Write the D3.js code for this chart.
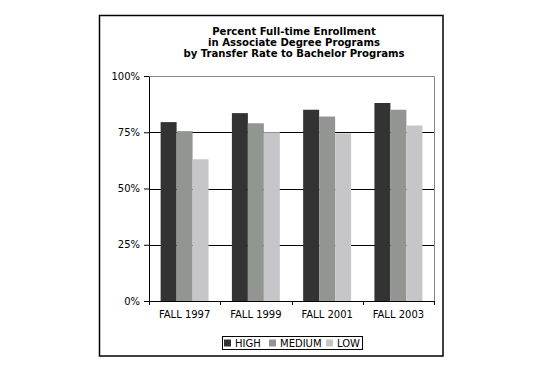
<!DOCTYPE html>
<html>
<head>
<meta charset="utf-8">
<script src="https://cdn.jsdelivr.net/npm/d3@7"></script>
<style>
  body { margin: 0; background: #fff; }
  text { font-family: "DejaVu Sans", Verdana, sans-serif; fill: #000; }
</style>
</head>
<body>
<div id="chart"></div>
<script>
// data
const terms = ["FALL 1997", "FALL 1999", "FALL 2001", "FALL 2003"];
const seriesNames = ["HIGH", "MEDIUM", "LOW"];
const high = [0.795, 0.835, 0.85, 0.88];
const medium = [0.755, 0.79, 0.82, 0.85];
const low = [0.63, 0.75, 0.745, 0.78];
const yTicks = [0, 0.25, 0.5, 0.75, 1];
const titleLines = ["Percent Full-time Enrollment", "in Associate Degree Programs", "by Transfer Rate to Bachelor Programs"];

const colors = { HIGH: "#333333", MEDIUM: "#939593", LOW: "#c6c5c8" };

const W = 540, H = 381;
const margin = { top: 76, right: 106, bottom: 80, left: 149 };
const width = W - margin.left - margin.right;
const height = H - margin.top - margin.bottom;

const svg = d3.select("#chart").append("svg")
    .attr("width", W)
    .attr("height", H);

// outer frame
svg.append("rect")
    .attr("x", 99.5).attr("y", 15.5)
    .attr("width", 343.5).attr("height", 340.5)
    .attr("fill", "none")
    .attr("stroke", "#000")
    .attr("stroke-width", 1.5);

// title
svg.append("text")
    .attr("x", 294).attr("y", 35)
    .style("text-anchor", "middle")
    .style("font-weight", "bold")
    .style("font-size", "10.1px")
    .selectAll("tspan")
    .data(titleLines)
    .enter().append("tspan")
    .attr("x", 294)
    .attr("dy", (d, i) => i === 0 ? 0 : 11)
    .text(d => d);

const g = svg.append("g")
    .attr("transform", `translate(${margin.left},${margin.top})`);

const x0 = d3.scaleBand().domain(terms).range([0, width]).paddingInner(0.327).paddingOuter(0.163);
const x1 = d3.scaleBand().domain(seriesNames).range([0, x0.bandwidth()]);
const y = d3.scaleLinear().domain([0, 1]).range([height, 0]);

// plot border (top/right gray)
g.append("path")
    .attr("d", `M0.5,0.5H${width + 0.5}V${height}`)
    .attr("fill", "none")
    .attr("stroke", "#888");

// gridlines
g.selectAll(".grid")
    .data(yTicks.filter(t => t > 0 && t < 1))
    .enter().append("line")
    .attr("x1", 0).attr("x2", width)
    .attr("y1", d => Math.round(y(d)) + 0.5)
    .attr("y2", d => Math.round(y(d)) + 0.5)
    .attr("stroke", "#000");

// bars
const rows = terms.map((t, i) => ({ term: t, values: [
    { key: "HIGH", v: high[i] }, { key: "MEDIUM", v: medium[i] }, { key: "LOW", v: low[i] }] }));

g.selectAll(".grp")
    .data(rows)
    .enter().append("g")
    .attr("transform", d => `translate(${x0(d.term)},0)`)
    .selectAll("rect")
    .data(d => d.values)
    .enter().append("rect")
    .attr("x", d => x1(d.key))
    .attr("y", d => y(d.v))
    .attr("width", x1.bandwidth())
    .attr("height", d => height - y(d.v))
    .attr("fill", d => colors[d.key]);

// y axis
const yAxis = g.append("g")
    .call(d3.axisLeft(y).tickValues(yTicks).tickFormat(d3.format(".0%")).tickSize(5).tickSizeOuter(0));
yAxis.select(".domain").attr("stroke", "#000");
yAxis.selectAll("text").style("font-size", "10px").attr("x", -9);

// x axis with ticks on category boundaries
const xAxis = g.append("g")
    .attr("transform", `translate(0,${height})`)
    .call(d3.axisBottom(x0).tickSize(0).tickSizeOuter(0));
xAxis.select(".domain").attr("stroke", "#000");
xAxis.selectAll("text").style("font-size", "10px").attr("dy", "1.05em").attr("y", 6);
const step = x0.step();
xAxis.selectAll(".bnd")
    .data(d3.range(terms.length + 1))
    .enter().append("line")
    .attr("x1", i => Math.round(i * step) + 0.5)
    .attr("x2", i => Math.round(i * step) + 0.5)
    .attr("y1", 0).attr("y2", 4)
    .attr("stroke", "#000");

// legend
const legend = svg.append("g").attr("transform", "translate(222,336)");
legend.append("rect")
    .attr("x", 0.5).attr("y", 0.5)
    .attr("width", 140).attr("height", 13)
    .attr("fill", "#fff").attr("stroke", "#000");
const legX = [2, 47, 104];
seriesNames.forEach((s, i) => {
    legend.append("rect")
        .attr("x", legX[i]).attr("y", 3.5)
        .attr("width", 7).attr("height", 7)
        .attr("fill", colors[s]);
    legend.append("text")
        .attr("x", legX[i] + 11).attr("y", 11)
        .style("font-size", "10px")
        .text(s);
});
</script>
</body>
</html>
